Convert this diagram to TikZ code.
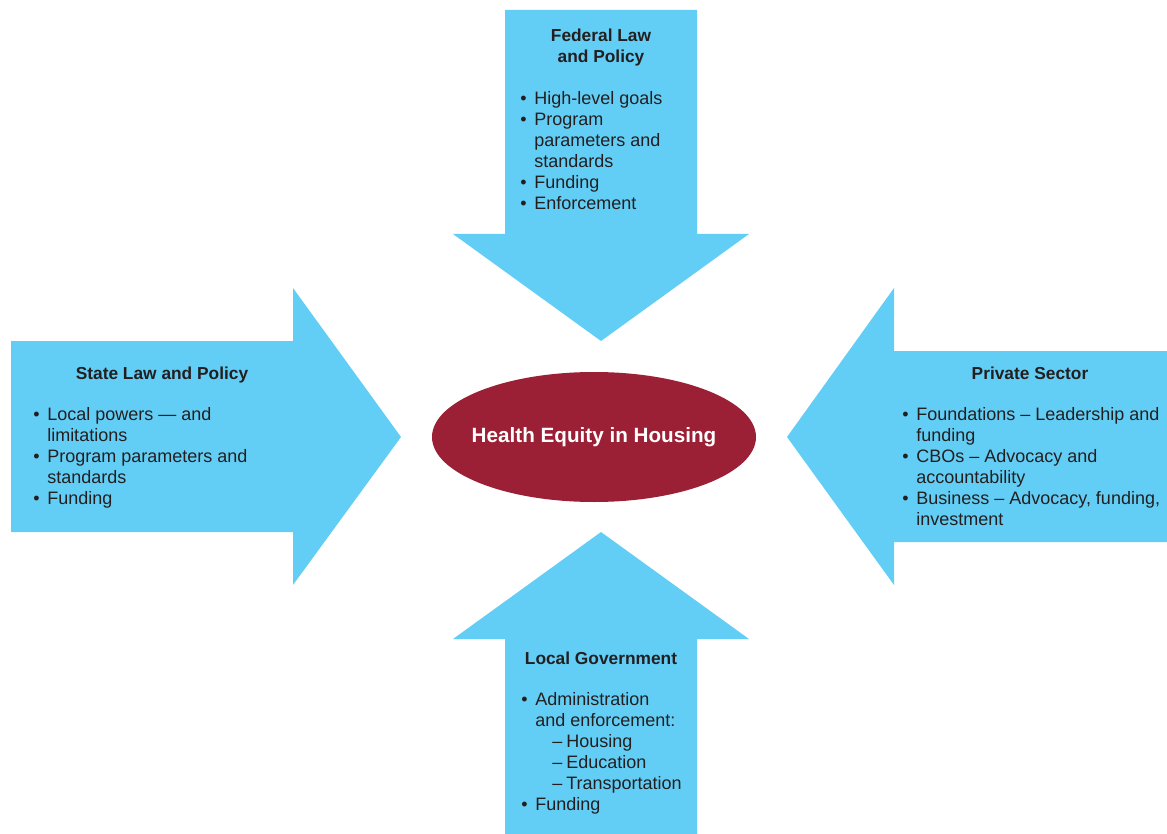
\documentclass[tikz,border=0pt]{standalone}
\usepackage{fontspec}
\setmainfont{Liberation Sans}

\definecolor{arrowblue}{HTML}{63CEF5}
\definecolor{equityred}{HTML}{9B1F35}
\definecolor{textgray}{HTML}{231F20}

% list items: bullet, continuation line, dashed sub item
\newcommand{\itm}{\makebox[10.5pt][l]{\textbullet}}
\newcommand{\cnt}{\hspace*{10.5pt}}
\newcommand{\subitm}{\hspace*{23.25pt}\makebox[10.5pt][l]{–}}

\begin{document}
\begin{tikzpicture}[x=0.75pt,y=-0.75pt,
    title/.style={font=\fontsize{13}{15.75}\selectfont\bfseries, text=textgray, align=center, inner sep=0pt},
    list/.style={font=\fontsize{13.5}{15.75}\selectfont, text=textgray, align=left, inner sep=0pt, anchor=north west}]
    \useasboundingbox (0,0) rectangle (1167,834);

    % draw the four arrows
    \fill[arrowblue] (505,10) -- (697,10) -- (697,234) -- (749,234) -- (601,341) -- (453,234) -- (505,234) -- cycle;
    \fill[arrowblue] (505,834) -- (697,834) -- (697,639) -- (749,639) -- (601,532) -- (453,639) -- (505,639) -- cycle;
    \fill[arrowblue] (11,341) -- (293,341) -- (293,288) -- (401,437) -- (293,585) -- (293,532) -- (11,532) -- cycle;
    \fill[arrowblue] (1167,351) -- (894,351) -- (894,288) -- (787,437) -- (894,585) -- (894,542) -- (1167,542) -- cycle;

    % draw center ellipse
    \fill[equityred] (594,437) ellipse [x radius=121.5pt, y radius=48.75pt];
    \node[text=white, inner sep=0pt, font=\fontsize{15.5}{18}\selectfont\bfseries] (equity) at (594,437) {Health Equity in Housing};

    % federal
    \node[title] (federal) at (601,48) {Federal Law\\and Policy};
    \node[list] (federallist) at (520,91) {\itm High-level goals\\\itm Program\\\cnt parameters and\\\cnt standards\\\itm Funding\\\itm Enforcement};

    % state
    \node[title] (state) at (162,375) {State Law and Policy};
    \node[list] (statelist) at (33,407) {\itm Local powers — and\\\cnt limitations\\\itm Program parameters and\\\cnt standards\\\itm Funding};

    % private
    \node[title] (private) at (1030,373) {Private Sector};
    \node[list] (privatelist) at (902,407) {\itm Foundations – Leadership and\\\cnt funding\\\itm CBOs – Advocacy and\\\cnt accountability\\\itm Business – Advocacy, funding,\\\cnt investment};

    % local
    \node[title] (local) at (601,658) {Local Government};
    \node[list] (locallist) at (521,692) {\itm Administration\\\cnt and enforcement:\\\subitm Housing\\\subitm Education\\\subitm Transportation\\\itm Funding};
\end{tikzpicture}
\end{document}
